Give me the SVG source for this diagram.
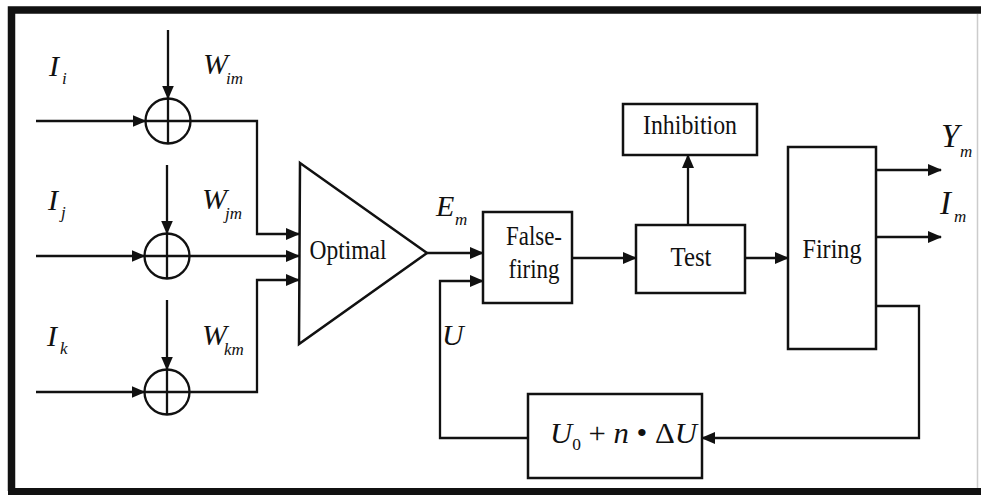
<svg xmlns="http://www.w3.org/2000/svg" width="981" height="497" viewBox="0 0 981 497">
  <style>
    .ln { fill: none; stroke: #111; stroke-width: 2.3; }
    .box { fill: #fff; stroke: #111; stroke-width: 2.5; }
    .lbl { font-family: "Liberation Serif", "Times New Roman", serif; fill: #111; }
    .it { font-style: italic; }
    .big { font-size: 30px; }
    .out { font-size: 33px; }
    .sub { font-size: 17px; }
    .name { font-size: 28px; }
  </style>
  <defs>
    <marker id="arrow" markerUnits="userSpaceOnUse" markerWidth="14" markerHeight="12" refX="13" refY="6" orient="auto">
      <path d="M0,0 L14,6 L0,12 z" fill="#111"/>
    </marker>
  </defs>

  <rect x="0" y="0" width="981" height="497" fill="#fff"/>

  <!-- outer frame -->
  <g id="frame">
    <path d="M11.5,491 L11.5,10 L981,10" fill="none" stroke="#111" stroke-width="7.5"/>
    <path d="M8,491.5 L981,491.5" fill="none" stroke="#111" stroke-width="7"/>
    <path d="M977.5,14 L977.5,488" fill="none" stroke="#ccc" stroke-width="1.5"/>
  </g>

  <!-- summing junctions -->
  <g id="sum-i">
    <circle cx="168" cy="121" r="22.5" class="ln"/>
    <path d="M145.5,121 H190.5 M168,98.5 V143.5" class="ln"/>
  </g>
  <g id="sum-j">
    <circle cx="167" cy="256" r="22.5" class="ln"/>
    <path d="M144.5,256 H189.5 M167,233.5 V278.5" class="ln"/>
  </g>
  <g id="sum-k">
    <circle cx="167" cy="392" r="22.5" class="ln"/>
    <path d="M144.5,392 H189.5 M167,369.5 V414.5" class="ln"/>
  </g>

  <!-- optimal selector -->
  <g id="optimal">
    <path d="M300,163 L427,253 L299,344 Z" class="box"/>
    <text x="348" y="259" text-anchor="middle" class="lbl name" textLength="77" lengthAdjust="spacingAndGlyphs">Optimal</text>
  </g>

  <g id="false-firing">
    <rect x="483" y="212" width="89" height="91" class="box"/>
    <text x="534" y="245" text-anchor="middle" class="lbl name" textLength="56" lengthAdjust="spacingAndGlyphs">False-</text>
    <text x="534" y="278" text-anchor="middle" class="lbl name" textLength="51" lengthAdjust="spacingAndGlyphs">firing</text>
  </g>

  <g id="test">
    <rect x="636" y="225" width="109" height="68" class="box"/>
    <text x="691" y="266" text-anchor="middle" class="lbl name" textLength="41" lengthAdjust="spacingAndGlyphs">Test</text>
  </g>

  <g id="inhibition">
    <rect x="623" y="104" width="134" height="51" class="box"/>
    <text x="690" y="134" text-anchor="middle" class="lbl name" textLength="94" lengthAdjust="spacingAndGlyphs">Inhibition</text>
  </g>

  <g id="firing">
    <rect x="788" y="147" width="88" height="202" class="box"/>
    <text x="832" y="258" text-anchor="middle" class="lbl name" textLength="59" lengthAdjust="spacingAndGlyphs">Firing</text>
  </g>

  <g id="threshold">
    <rect x="528" y="394" width="174" height="84" class="box"/>
    <text x="550" y="443" class="lbl" font-size="30" textLength="147" lengthAdjust="spacingAndGlyphs"><tspan font-style="italic">U</tspan><tspan font-size="17" dy="7">0</tspan><tspan dy="-7"> + </tspan><tspan font-style="italic">n</tspan><tspan> • Δ</tspan><tspan font-style="italic">U</tspan></text>
  </g>

  <!-- connectors -->
  <g id="connectors">
    <!-- weight inputs -->
    <path d="M168,30 V98.5" class="ln" marker-end="url(#arrow)"/>
    <path d="M167,165 V233.5" class="ln" marker-end="url(#arrow)"/>
    <path d="M167,300 V369.5" class="ln" marker-end="url(#arrow)"/>
    <!-- signal inputs -->
    <path d="M36,121 H145.5" class="ln" marker-end="url(#arrow)"/>
    <path d="M36,256 H144.5" class="ln" marker-end="url(#arrow)"/>
    <path d="M36,392 H144.5" class="ln" marker-end="url(#arrow)"/>
    <!-- weighted sums to selector -->
    <path d="M190.5,121 H257 V234 H299" class="ln" marker-end="url(#arrow)"/>
    <path d="M189.5,256 H299" class="ln" marker-end="url(#arrow)"/>
    <path d="M189.5,392 H257 V280 H299" class="ln" marker-end="url(#arrow)"/>
    <!-- main chain -->
    <path d="M427,253 H483" class="ln" marker-end="url(#arrow)"/>
    <path d="M572,258 H636" class="ln" marker-end="url(#arrow)"/>
    <path d="M745,258 H788" class="ln" marker-end="url(#arrow)"/>
    <path d="M688,225 V155" class="ln" marker-end="url(#arrow)"/>
    <!-- outputs -->
    <path d="M876,170 H941" class="ln" marker-end="url(#arrow)"/>
    <path d="M876,237 H941" class="ln" marker-end="url(#arrow)"/>
    <!-- threshold feedback -->
    <path d="M876,306 H919 V438 H702" class="ln" marker-end="url(#arrow)"/>
    <path d="M528,438 H440 V281 H483" class="ln" marker-end="url(#arrow)"/>
  </g>

  <!-- signal labels -->
  <g id="labels" class="lbl it">
    <text x="49" y="76" class="big">I</text><text x="62" y="84" class="sub">i</text>
    <text x="203" y="74" class="big">W</text><text x="226" y="84" class="sub">im</text>
    <text x="48" y="210" class="big">I</text><text x="61" y="218" class="sub">j</text>
    <text x="202" y="209" class="big">W</text><text x="225" y="219" class="sub">jm</text>
    <text x="47" y="346" class="big">I</text><text x="60" y="354" class="sub">k</text>
    <text x="202" y="345" class="big">W</text><text x="224" y="355" class="sub">km</text>
    <text x="436" y="216" class="big">E</text><text x="455" y="225" class="sub">m</text>
    <text x="442" y="345" class="big">U</text>
    <text x="941" y="147" class="out">Y</text><text x="960" y="157" class="sub">m</text>
    <text x="940" y="214" class="out">I</text><text x="954" y="222" class="sub">m</text>
  </g>
</svg>
